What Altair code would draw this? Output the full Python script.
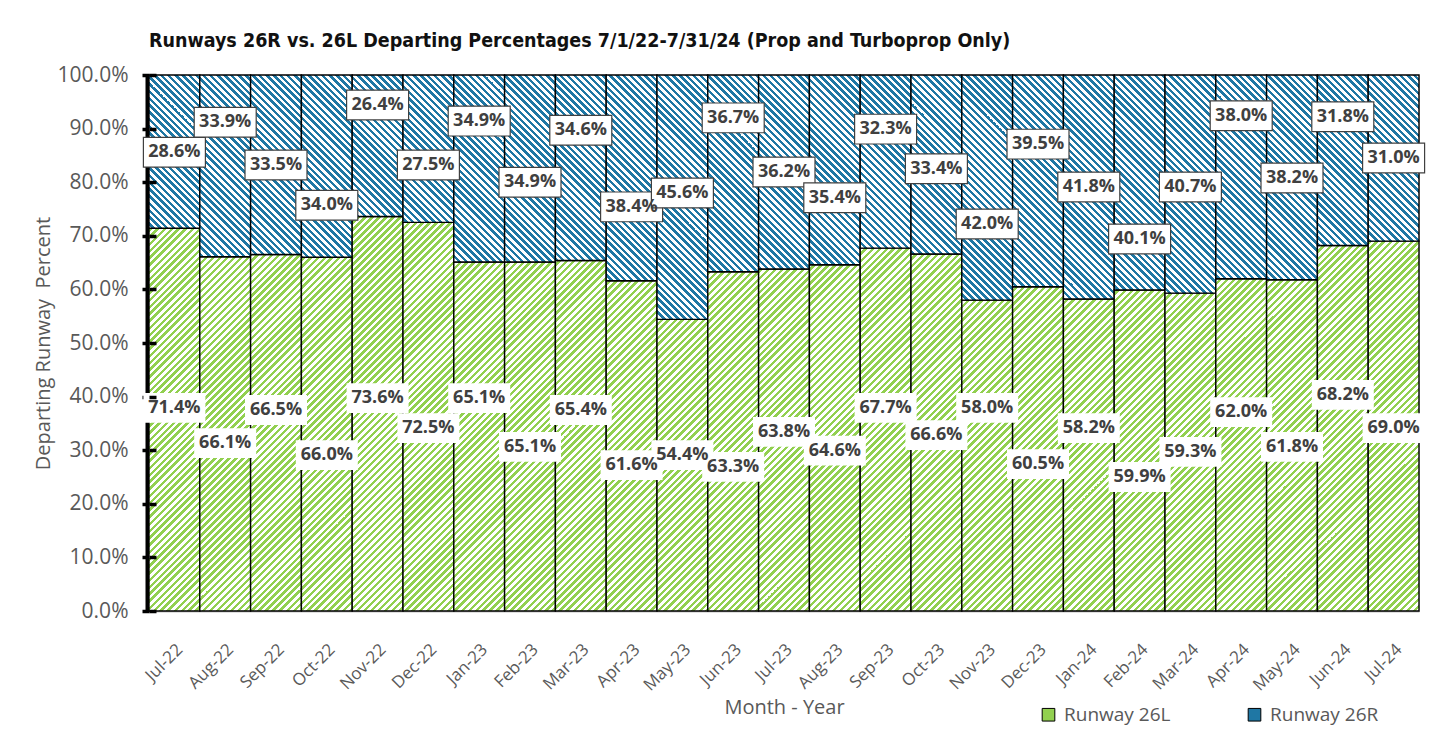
import altair as alt

# ---------------- data ----------------
months = ["Jul-22", "Aug-22", "Sep-22", "Oct-22", "Nov-22", "Dec-22", "Jan-23", "Feb-23",
          "Mar-23", "Apr-23", "May-23", "Jun-23", "Jul-23", "Aug-23", "Sep-23", "Oct-23",
          "Nov-23", "Dec-23", "Jan-24", "Feb-24", "Mar-24", "Apr-24", "May-24", "Jun-24", "Jul-24"]
runway_26l = [71.4, 66.1, 66.5, 66.0, 73.6, 72.5, 65.1, 65.1, 65.4, 61.6, 54.4, 63.3, 63.8,
              64.6, 67.7, 66.6, 58.0, 60.5, 58.2, 59.9, 59.3, 62.0, 61.8, 68.2, 69.0]
runway_26r = [28.6, 33.9, 33.5, 34.0, 26.4, 27.5, 34.9, 34.9, 34.6, 38.4, 45.6, 36.7, 36.2,
              35.4, 32.3, 33.4, 42.0, 39.5, 41.8, 40.1, 40.7, 38.0, 38.2, 31.8, 31.0]

# label anchor heights (in % of the axis) as placed on the original chart
label_at_26l = [37.9, 31.3, 37.5, 29.1, 39.7, 34.1, 39.7, 30.6, 37.5, 27.2, 29.1, 26.9, 33.4,
                29.9, 37.9, 32.8, 37.9, 27.4, 34.1, 25.0, 29.7, 37.1, 30.6, 40.3, 34.1]
label_at_26r = [85.6, 91.2, 83.2, 75.7, 94.4, 83.2, 91.4, 80.0, 89.7, 75.4, 78.0, 92.0, 81.9,
                77.1, 89.9, 82.5, 72.2, 87.1, 79.1, 69.4, 79.1, 92.4, 80.8, 92.2, 84.5]

# ---------------- style ----------------
W, H = 1270, 536
N = len(months)
STEP = W / N
GREEN = "#92D050"
BLUE = "#1F77A4"
GREY = "#595959"
FONT = "Open Sans"
PERIOD = 7.0


def hatch(x0, y0, w, h, color, direction, frac):
    """Linear gradient with hard stops that imitates a diagonal hatch pattern."""
    R = w + h
    s = w * (w + h) / (w * w + h * h)
    if direction == "/":
        phi = x0 + y0
        g = {"gradient": "linear", "x1": 0, "y1": 0, "x2": s, "y2": s * h / w}
    else:
        phi = y0 - x0 - w
        g = {"gradient": "linear", "x1": 1, "y1": 0, "x2": 1 - s, "y2": s * h / w}
    segs = []
    r = -(phi % PERIOD)
    while r < R:
        for a, b, c in ((r, r + frac * PERIOD, color), (r + frac * PERIOD, r + PERIOD, "#FFFFFF")):
            a2, b2 = max(a, 0.0), min(b, R)
            if b2 > a2:
                segs.append((a2, b2, c))
        r += PERIOD
    stops = []
    for a, b, c in segs:
        stops.append({"offset": round(a / R, 5), "color": c})
        stops.append({"offset": round(b / R, 5), "color": c})
    g["stops"] = stops
    return g


bars = []
labels = []
for i, m in enumerate(months):
    vl, vr = runway_26l[i], runway_26r[i]
    x0 = i * STEP
    # 26L (bottom)
    hl = vl / 100 * H
    bars.append({"month": m, "series": "Runway 26L", "lo": 0, "hi": vl,
                 "grad": hatch(x0, H - hl, STEP, hl, GREEN, "/", 0.5)})
    # 26R (top)
    top = vl + vr
    hr = vr / 100 * H
    bars.append({"month": m, "series": "Runway 26R", "lo": vl, "hi": top,
                 "grad": hatch(x0, H - top / 100 * H, STEP, hr, BLUE, "\\", 0.45)})
    labels.append({"month": m, "series": "Runway 26L", "pos": label_at_26l[i],
                   "text": f"{vl:.1f}%"})
    labels.append({"month": m, "series": "Runway 26R", "pos": label_at_26r[i],
                   "text": f"{vr:.1f}%"})

bar_data = alt.Data(values=bars)
lab_data = alt.Data(values=labels)

x_enc = alt.X("month:N", sort=months,
              scale=alt.Scale(paddingInner=0, paddingOuter=0),
              axis=alt.Axis(title="Month - Year", labelAngle=-45, labelFontSize=17,
                            labelColor=GREY, labelFont=FONT, labelPadding=30,
                            ticks=False, domainColor="#BFBFBF", domainWidth=2,
                            titleFontSize=20, titleColor=GREY, titleFont=FONT,
                            titleFontWeight="normal", titlePadding=4))
y_scale = alt.Scale(domain=[0, 100], nice=False)

bar_layer = alt.Chart(bar_data).mark_bar(stroke="black", strokeWidth=1.4).encode(
    x=x_enc,
    y=alt.Y("lo:Q", scale=y_scale,
            axis=alt.Axis(title="Departing Runway\u00a0 Percent", values=list(range(0, 101, 10)),
                          labelExpr="format(datum.value, '.1f') + '%'",
                          labelFontSize=21, labelColor=GREY, labelFont=FONT, labelPadding=14,
                          domainColor="black", domainWidth=8, tickColor="black",
                          tickWidth=3.5, tickSize=7, grid=False,
                          titleFontSize=20, titleColor=GREY, titleFont=FONT,
                          titleFontWeight="normal", titlePadding=4, zindex=0)),
    y2="hi:Q",
    fill=alt.Fill("grad:N", scale=None, legend=None),
)

BOX = "M-1,-0.48H1V0.48H-1Z"

box_r = alt.Chart(lab_data).transform_filter(alt.datum.series == "Runway 26R").mark_point(
    shape=BOX, filled=True, fill="white", stroke="#404040", strokeWidth=1.2,
    size=3844, opacity=1).encode(
    x=alt.X("month:N", sort=months),
    y=alt.Y("pos:Q", scale=y_scale, axis=None),
)
box_l = alt.Chart(lab_data).transform_filter(alt.datum.series == "Runway 26L").mark_point(
    shape=BOX, filled=True, fill="white", size=3844, opacity=1).encode(
    x=alt.X("month:N", sort=months),
    y=alt.Y("pos:Q", scale=y_scale, axis=None),
)
text_layer = alt.Chart(lab_data).mark_text(
    font=FONT, fontSize=18, fontWeight="bold", color="#404040",
    align="center", baseline="middle").encode(
    x=alt.X("month:N", sort=months),
    y=alt.Y("pos:Q", scale=y_scale,
            axis=alt.Axis(orient="left", offset=-7, values=list(range(0, 101, 10)),
                          labels=False, domain=False, title=None, grid=False,
                          tickColor="black", tickWidth=3.5, tickSize=7, zindex=1)),
    text="text:N",
)
legend_layer = alt.Chart(lab_data).mark_square(opacity=0).encode(
    x=alt.X("month:N", sort=months),
    y=alt.Y("pos:Q", scale=y_scale, axis=None),
    color=alt.Color("series:N",
                    scale=alt.Scale(domain=["Runway 26L", "Runway 26R"], range=[GREEN, BLUE]),
                    legend=alt.Legend(title=None, orient="none", legendX=890, legendY=630,
                                      direction="horizontal", symbolType="square",
                                      symbolSize=160, symbolStrokeColor="black",
                                      symbolStrokeWidth=1, symbolOpacity=1,
                                      labelFontSize=19, labelColor=GREY, labelFont=FONT,
                                      labelOffset=6, columnPadding=74)),
)

chart = alt.layer(bar_layer, box_r, box_l, text_layer, legend_layer).resolve_axis(
    y="independent").properties(
    width=W, height=H,
    padding={"left": 25, "top": 22, "right": 5, "bottom": 5},
    title=alt.Title("Runways 26R vs. 26L Departing Percentages 7/1/22-7/31/24 (Prop and Turboprop Only)",
                    anchor="start", frame="group", fontSize=19.5, fontWeight="bold",
                    font="Liberation Sans Narrow, DejaVu Sans Condensed, sans-serif",
                    color="#111111", offset=13),
).configure_view(stroke=None).configure(background="white")

chart.save("out.html", embed_options={"renderer": "svg", "actions": False})
